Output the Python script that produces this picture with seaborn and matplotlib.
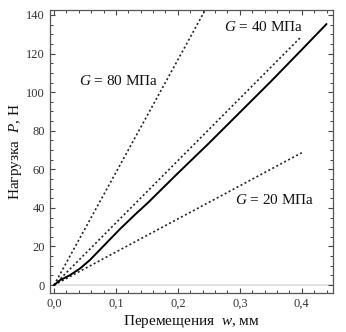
import numpy as np
import pandas as pd
import matplotlib
matplotlib.use("Agg")
import matplotlib.pyplot as plt
import seaborn as sns
from matplotlib.ticker import MultipleLocator, FuncFormatter

# данные
w_exp = [0.0, 0.01, 0.026, 0.042, 0.058, 0.074, 0.09, 0.107, 0.13, 0.152, 0.2, 0.25, 0.3, 0.35, 0.4, 0.44]
p_exp = [0.0, 2.6, 5.2, 8.6, 13.0, 18.3, 23.6, 29.2, 36.3, 42.8, 58.0, 73.5, 89.5, 105.5, 122.0, 135.3]

w_g80 = [0.0, 0.25]
p_g80 = [0.0, 146.0]
w_g40 = [0.0, 0.40]
p_g40 = [0.0, 129.0]
w_g20 = [0.0, 0.40]
p_g20 = [0.0, 68.6]

labels = ["$G$ = 80 МПа", "$G$ = 40 МПа", "$G$ = 20 МПа"]

sns.set_style("ticks")
plt.rcParams["font.family"] = ["Liberation Serif", "DejaVu Serif"]
plt.rcParams["mathtext.fontset"] = "custom"
plt.rcParams["mathtext.rm"] = "Liberation Serif"
plt.rcParams["mathtext.it"] = "Liberation Serif:italic"

fig, ax = plt.subplots(figsize=(3.46, 3.32), dpi=100)
fig.subplots_adjust(left=0.1445, right=0.9616, top=0.970, bottom=0.1175)

ax.axhline(0, color="#dddddd", lw=1.2, zorder=0)

dot = dict(color="#222222", lw=1.2, linestyle=(0, (1.2, 1.5)))
sns.lineplot(x=w_g80, y=p_g80, ax=ax, **dot)
sns.lineplot(x=w_g40, y=p_g40, ax=ax, **dot)
sns.lineplot(x=w_g20, y=p_g20, ax=ax, **dot)
sns.lineplot(x=w_exp, y=p_exp, ax=ax, color="black", lw=1.4)

ax.text(0.105, 106, labels[0], fontsize=11, ha="center", va="center", color="#111111")
ax.text(0.339, 133.7, labels[1], fontsize=11, ha="center", va="center", color="#111111")
ax.text(0.357, 44, labels[2], fontsize=11, ha="center", va="center", color="#111111")

ax.set_xlim(-0.0065, 0.450)
ax.set_ylim(-4.1, 142.6)
ax.xaxis.set_major_locator(MultipleLocator(0.1))
ax.xaxis.set_minor_locator(MultipleLocator(0.02))
ax.yaxis.set_major_locator(MultipleLocator(20))
ax.yaxis.set_minor_locator(MultipleLocator(5))
ax.xaxis.set_major_formatter(FuncFormatter(lambda v, p: f"{v:.1f}".replace(".", ",")))
ax.tick_params(which="both", direction="in", top=True, right=True, color="#444444")
ax.tick_params(which="major", length=3.5, width=0.8, labelsize=9, colors="#444444", labelcolor="#333333")
ax.tick_params(which="minor", length=2, width=0.7)
for s in ax.spines.values():
    s.set_color("#555555")
    s.set_linewidth(0.9)

ax.set_xlabel("Перемещения  $w$, мм", fontsize=11, labelpad=2, color="#111111")
ax.set_ylabel("Нагрузка  $P$, Н", fontsize=11, labelpad=2, color="#111111")

fig.savefig("out.png", dpi=100)
